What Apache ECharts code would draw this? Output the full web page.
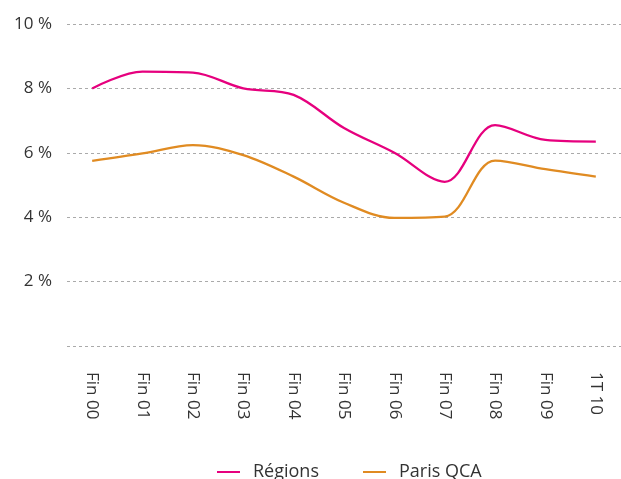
<!DOCTYPE html>
<html>
<head>
<meta charset="utf-8">
<script src="https://cdn.jsdelivr.net/npm/echarts@6/dist/echarts.min.js"></script>
<style>
  html, body { margin: 0; padding: 0; background: #fff; }
  #chart { width: 621px; height: 479px; }
</style>
</head>
<body>
<div id="chart"></div>
<script>
// Taux de vacance des bureaux (%)
const categories = ['Fin 00', 'Fin 01', 'Fin 02', 'Fin 03', 'Fin 04', 'Fin 05', 'Fin 06', 'Fin 07', 'Fin 08', 'Fin 09', '1T 10'];
const regions = [8.0, 8.52, 8.49, 8.0, 7.8, 6.77, 6.0, 5.1, 6.86, 6.4, 6.35];
const parisQCA = [5.75, 5.98, 6.24, 5.93, 5.26, 4.45, 3.98, 4.02, 5.76, 5.49, 5.26];
const yTicks = [0, 2, 4, 6, 8, 10];

const FONT = '"Open Sans", Lato, sans-serif';
const chart = echarts.init(document.getElementById('chart'), null, { renderer: 'canvas' });

chart.setOption({
  animation: false,
  textStyle: { fontFamily: FONT },
  grid: { left: 67, top: 24, width: 562, height: 322, containLabel: false },
  legend: {
    top: 458,
    left: 212,
    itemWidth: 23,
    itemHeight: 2,
    itemGap: 44,
    icon: 'rect',
    textStyle: { fontFamily: FONT, fontSize: 18, color: '#333', padding: [0, 0, 0, 8] },
    data: ['Régions', 'Paris QCA']
  },
  xAxis: {
    type: 'category',
    data: categories,
    boundaryGap: true,
    axisLine: { show: false },
    axisTick: { show: false },
    axisLabel: { rotate: -90, margin: 26, fontSize: 17, color: '#333', fontFamily: FONT }
  },
  yAxis: {
    type: 'value',
    min: yTicks[0],
    max: yTicks[yTicks.length - 1],
    interval: 2,
    axisLine: { show: false },
    axisTick: { show: false },
    splitLine: { lineStyle: { color: '#aaa', type: [3, 3], width: 1 } },
    axisLabel: {
      margin: 15,
      fontSize: 17,
      color: '#333',
      fontFamily: FONT,
      formatter: v => (v === 0 ? '' : v + ' %')
    }
  },
  series: [
    {
      name: 'Régions',
      type: 'line',
      data: regions,
      smooth: 0.35,
      symbol: 'none',
      lineStyle: { color: '#e6007e', width: 2.3 },
      itemStyle: { color: '#e6007e' }
    },
    {
      name: 'Paris QCA',
      type: 'line',
      data: parisQCA,
      smooth: 0.35,
      symbol: 'none',
      lineStyle: { color: '#e08b22', width: 2.3 },
      itemStyle: { color: '#e08b22' }
    }
  ]
});
</script>
</body>
</html>
